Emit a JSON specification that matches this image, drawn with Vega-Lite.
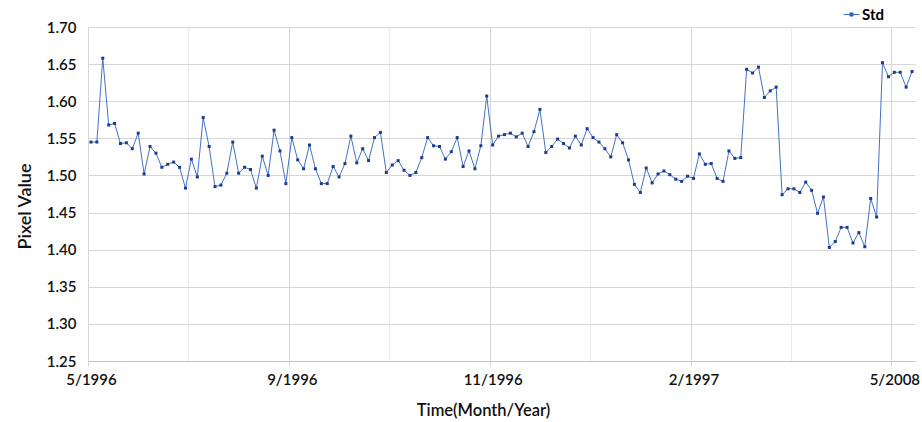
{
  "$schema": "https://vega.github.io/schema/vega-lite/v6.json",
  "width": 827,
  "height": 334,
  "autosize": {"type": "none"},
  "padding": {"left": 88, "top": 27, "right": 7, "bottom": 61},
  "background": "white",
  "config": {
    "font": "Lato",
    "view": {"stroke": null},
    "axis": {"labelFont": "Lato", "titleFont": "Lato", "labelColor": "#111111", "titleColor": "#111111"}
  },
  "data": {"values": [
    {"i":0,"v":1.545},{"i":1,"v":1.545},{"i":2,"v":1.658},{"i":3,"v":1.568},{"i":4,"v":1.570},
    {"i":5,"v":1.543},{"i":6,"v":1.544},{"i":7,"v":1.536},{"i":8,"v":1.557},{"i":9,"v":1.502},
    {"i":10,"v":1.539},{"i":11,"v":1.530},{"i":12,"v":1.511},{"i":13,"v":1.515},{"i":14,"v":1.518},
    {"i":15,"v":1.511},{"i":16,"v":1.483},{"i":17,"v":1.522},{"i":18,"v":1.498},{"i":19,"v":1.578},
    {"i":20,"v":1.539},{"i":21,"v":1.485},{"i":22,"v":1.487},{"i":23,"v":1.503},{"i":24,"v":1.545},
    {"i":25,"v":1.503},{"i":26,"v":1.511},{"i":27,"v":1.508},{"i":28,"v":1.483},{"i":29,"v":1.526},
    {"i":30,"v":1.500},{"i":31,"v":1.561},{"i":32,"v":1.533},{"i":33,"v":1.489},{"i":34,"v":1.551},
    {"i":35,"v":1.521},{"i":36,"v":1.509},{"i":37,"v":1.541},{"i":38,"v":1.509},{"i":39,"v":1.489},
    {"i":40,"v":1.489},{"i":41,"v":1.512},{"i":42,"v":1.498},{"i":43,"v":1.516},{"i":44,"v":1.553},
    {"i":45,"v":1.517},{"i":46,"v":1.536},{"i":47,"v":1.520},{"i":48,"v":1.551},{"i":49,"v":1.558},
    {"i":50,"v":1.504},{"i":51,"v":1.514},{"i":52,"v":1.520},{"i":53,"v":1.507},{"i":54,"v":1.500},
    {"i":55,"v":1.504},{"i":56,"v":1.524},{"i":57,"v":1.551},{"i":58,"v":1.540},{"i":59,"v":1.539},
    {"i":60,"v":1.522},{"i":61,"v":1.532},{"i":62,"v":1.551},{"i":63,"v":1.512},{"i":64,"v":1.533},
    {"i":65,"v":1.509},{"i":66,"v":1.540},{"i":67,"v":1.607},{"i":68,"v":1.541},{"i":69,"v":1.553},
    {"i":70,"v":1.555},{"i":71,"v":1.557},{"i":72,"v":1.552},{"i":73,"v":1.557},{"i":74,"v":1.539},
    {"i":75,"v":1.559},{"i":76,"v":1.589},{"i":77,"v":1.531},{"i":78,"v":1.539},{"i":79,"v":1.549},
    {"i":80,"v":1.543},{"i":81,"v":1.537},{"i":82,"v":1.553},{"i":83,"v":1.541},{"i":84,"v":1.563},
    {"i":85,"v":1.551},{"i":86,"v":1.545},{"i":87,"v":1.536},{"i":88,"v":1.525},{"i":89,"v":1.555},
    {"i":90,"v":1.544},{"i":91,"v":1.521},{"i":92,"v":1.488},{"i":93,"v":1.477},{"i":94,"v":1.510},
    {"i":95,"v":1.490},{"i":96,"v":1.502},{"i":97,"v":1.506},{"i":98,"v":1.501},{"i":99,"v":1.495},
    {"i":100,"v":1.492},{"i":101,"v":1.499},{"i":102,"v":1.496},{"i":103,"v":1.529},{"i":104,"v":1.515},
    {"i":105,"v":1.516},{"i":106,"v":1.496},{"i":107,"v":1.492},{"i":108,"v":1.533},{"i":109,"v":1.523},
    {"i":110,"v":1.524},{"i":111,"v":1.643},{"i":112,"v":1.638},{"i":113,"v":1.646},{"i":114,"v":1.605},
    {"i":115,"v":1.614},{"i":116,"v":1.619},{"i":117,"v":1.474},{"i":118,"v":1.482},{"i":119,"v":1.482},
    {"i":120,"v":1.477},{"i":121,"v":1.491},{"i":122,"v":1.480},{"i":123,"v":1.449},{"i":124,"v":1.471},
    {"i":125,"v":1.403},{"i":126,"v":1.411},{"i":127,"v":1.430},{"i":128,"v":1.430},{"i":129,"v":1.409},
    {"i":130,"v":1.423},{"i":131,"v":1.404},{"i":132,"v":1.469},{"i":133,"v":1.444},{"i":134,"v":1.652},
    {"i":135,"v":1.633},{"i":136,"v":1.639},{"i":137,"v":1.639},{"i":138,"v":1.619},{"i":139,"v":1.640}
  ]},
  "encoding": {
    "x": {
      "field": "i", "type": "quantitative",
      "scale": {"domain": [-0.5, 139.5], "nice": false, "zero": false},
      "axis": {
        "title": "Time(Month/Year)",
        "titleFontSize": 16.5, "titleFontWeight": 600, "titleX": 395, "titlePadding": 15,
        "values": [-0.5, 16.5, 33.5, 50.5, 67.5, 84.5, 101.5, 118.5, 135.5],
        "labelExpr": "datum.value == -0.5 ? '5/1996' : datum.value == 33.5 ? '9/1996' : datum.value == 67.5 ? '11/1996' : datum.value == 101.5 ? '2/1997' : datum.value == 135.5 ? '5/2008' : ''",
        "labelFontSize": 15, "labelFontWeight": 600, "labelOffset": 3, "labelPadding": 6,
        "labelFlush": false, "labelOverlap": false,
        "grid": true,
        "gridColor": {"condition": {"test": "(datum.value + 0.5) % 34 == 17", "value": "#ececec"}, "value": "#d6d6d6"},
        "ticks": true, "tickSize": 5,
        "tickColor": {"condition": {"test": "(datum.value + 0.5) % 34 == 17", "value": "rgba(0,0,0,0)"}, "value": "#d6d6d6"},
        "domainColor": "#c4c4c4"
      }
    },
    "y": {
      "field": "v", "type": "quantitative",
      "scale": {"domain": [1.25, 1.70], "nice": false, "zero": false},
      "axis": {
        "title": "Pixel Value",
        "titleFontSize": 18, "titleFontWeight": 600, "titleY": 179, "titlePadding": 12,
        "values": [1.25, 1.30, 1.35, 1.40, 1.45, 1.50, 1.55, 1.60, 1.65, 1.70],
        "format": ".2f",
        "labelFontSize": 15, "labelFontWeight": 600, "labelPadding": 12,
        "ticks": false,
        "gridColor": "#d6d6d6",
        "domainColor": "#d6d6d6"
      }
    }
  },
  "layer": [
    {
      "mark": {"type": "line", "strokeWidth": 1},
      "encoding": {
        "color": {
          "datum": "Std",
          "scale": {"range": ["#4472C4"]},
          "legend": {
            "title": null, "orient": "none", "legendX": 755, "legendY": -21,
            "symbolType": "M-1,0H1M-0.2,-0.2H0.2V0.2H-0.2Z",
            "symbolSize": 256, "symbolStrokeWidth": 1,
            "symbolStrokeColor": "#4472C4", "symbolFillColor": "#1f3c88",
            "labelFont": "Lato", "labelFontSize": 15, "labelFontWeight": "bold", "labelColor": "#000000",
            "labelOffset": 2
          }
        }
      }
    },
    {
      "mark": {"type": "square", "size": 9, "filled": true, "color": "#1f3c88", "opacity": 1}
    }
  ]
}
